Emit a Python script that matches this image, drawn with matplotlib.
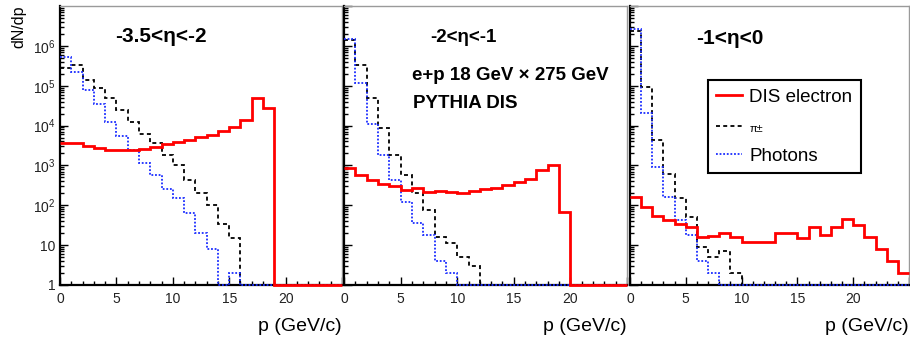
import numpy as np
import matplotlib
matplotlib.use("Agg")
import matplotlib.pyplot as plt
from matplotlib.ticker import MultipleLocator, LogLocator, NullFormatter, FixedLocator, FixedFormatter

plt.rcParams['font.family'] = ['Liberation Sans', 'DejaVu Sans']
plt.rcParams['mathtext.fontset'] = 'custom'
plt.rcParams['mathtext.rm'] = 'Liberation Sans'
plt.rcParams['mathtext.it'] = 'Liberation Sans:italic'
plt.rcParams['mathtext.bf'] = 'Liberation Sans:bold'

# momentum binning (GeV/c), 1 GeV/c wide bins
p_edges = np.arange(0, 26, 1)

eta_ranges = ["-3.5<η<-2", "-2<η<-1", "-1<η<0"]
series_names = ["DIS electron", "π±", "Photons"]

# dN/dp per bin, -3.5 < eta < -2
electron_eta1 = [3600, 3600, 3100, 2700, 2500, 2500, 2500, 2600, 2900, 3400, 3800, 4400,
                 5100, 5900, 7100, 9300, 13800, 49000, 27500, 0, 0, 0, 0, 0, 0]
pion_eta1 = [275000, 331000, 141000, 87000, 49000, 24500, 12600, 6300, 3600, 1800, 1000,
             440, 200, 100, 34, 15, 0, 0, 0, 0, 0, 0, 0, 0, 0]
photon_eta1 = [525000, 224000, 76000, 35500, 12600, 5600, 2500, 1120, 575, 250, 150, 63,
               20, 8, 0, 2, 0, 0, 0, 0, 0, 0, 0, 0, 0]

# dN/dp per bin, -2 < eta < -1
electron_eta2 = [850, 575, 437, 347, 309, 245, 269, 214, 229, 214, 209, 234, 251, 269, 324,
                 389, 447, 776, 1020, 66, 0, 0, 0, 0, 0]
pion_eta2 = [1400000, 331000, 49000, 8500, 1820, 575, 200, 76, 16, 11, 5, 3, 0, 0, 0, 0, 0,
             0, 0, 0, 0, 0, 0, 0, 0]
photon_eta2 = [1480000, 115000, 11000, 1820, 437, 123, 35, 18, 4, 2, 0, 0, 0, 0, 0, 0, 0,
               0, 0, 0, 0, 0, 0, 0, 0]

# dN/dp per bin, -1 < eta < 0
electron_eta3 = [166, 89, 54, 43, 34, 28, 16, 17, 20, 16, 12, 12, 12, 20, 20, 15, 28, 18, 28,
                 45, 32, 16, 8, 4, 2]
pion_eta3 = [2300000, 91000, 4400, 617, 151, 52, 9, 5, 7, 2, 0, 0, 0, 0, 0, 0, 0, 0, 0, 0, 0,
             0, 0, 0, 0]
photon_eta3 = [2630000, 20400, 933, 166, 43, 18, 4, 2, 0, 0, 0, 0, 0, 0, 0, 0, 0, 0, 0, 0, 0,
               0, 0, 0, 0]

panels = [
    (electron_eta1, pion_eta1, photon_eta1),
    (electron_eta2, pion_eta2, photon_eta2),
    (electron_eta3, pion_eta3, photon_eta3),
]

x_ticks = [0, 5, 10, 15, 20]
x_tick_labels = ["0", "5", "10", "15", "20"]
y_ticks = [1, 10, 1e2, 1e3, 1e4, 1e5, 1e6]
y_tick_labels = ["1", "10", "$10^{2}$", "$10^{3}$", "$10^{4}$", "$10^{5}$", "$10^{6}$"]

W, H = 910, 344
fig = plt.figure(figsize=(W / 100, H / 100), dpi=100)

# frame extents in pixels (left, right); shared top/bottom
frames = [(60, 342), (344, 627), (630, 909)]
top_px, bot_px = 6, 285

Y_MIN, Y_MAX = 1, 1e7

axes = []
for i, ((l, r), (ele, pi, gam)) in enumerate(zip(frames, panels)):
    ax = fig.add_axes([l / W, 1 - bot_px / H, (r - l) / W, (bot_px - top_px) / H])
    axes.append(ax)
    ax.set_yscale('log')
    ax.set_xlim(0, 25)
    ax.set_ylim(Y_MIN, Y_MAX)

    # empty bins are drawn along the axis floor
    h_pi = ax.stairs(np.maximum(pi, Y_MIN), p_edges, baseline=None, color='black',
                     linewidth=1.3, linestyle=(0, (2.2, 1.8)), zorder=3, clip_on=False,
                     label=series_names[1])
    h_gam = ax.stairs(np.maximum(gam, Y_MIN), p_edges, baseline=None, color='#1a2cff',
                      linewidth=1.3, linestyle=(0, (1, 1)), zorder=4, clip_on=False,
                      label=series_names[2])
    h_ele = ax.stairs(np.maximum(ele, Y_MIN), p_edges, baseline=None, color='#ff0000',
                      linewidth=2.0, zorder=5, clip_on=False, label=series_names[0])

    # ticks pointing into the frame
    ax.xaxis.set_major_locator(FixedLocator(x_ticks + [25]))
    ax.xaxis.set_major_formatter(FixedFormatter(x_tick_labels + [""]))
    ax.xaxis.set_minor_locator(MultipleLocator(1))
    ax.yaxis.set_major_locator(LogLocator(base=10, numticks=10))
    ax.yaxis.set_minor_locator(LogLocator(base=10, subs=np.arange(2, 10), numticks=10))
    ax.yaxis.set_minor_formatter(NullFormatter())
    ax.tick_params(axis='both', which='both', direction='in', top=False, right=False,
                   colors='black', labelcolor='#222222')
    ax.tick_params(axis='x', which='major', length=6, width=1.0, labelsize=10, pad=5)
    ax.tick_params(axis='x', which='minor', length=3, width=1.0)
    ax.tick_params(axis='y', which='major', length=5.5, width=1.0, labelsize=10, pad=3.5)
    ax.tick_params(axis='y', which='minor', length=3, width=1.0)
    if i == 0:
        ax.yaxis.set_major_locator(FixedLocator(y_ticks))
        ax.yaxis.set_major_formatter(FixedFormatter(y_tick_labels))
    else:
        ax.yaxis.set_major_formatter(NullFormatter())

    for side in ('left', 'bottom'):
        ax.spines[side].set_linewidth(1.6)
        ax.spines[side].set_color('black')
    for side in ('top', 'right'):
        ax.spines[side].set_linewidth(1.0)
        ax.spines[side].set_color('#9a9a9a')

    ax.set_xlabel("p (GeV/c)", loc='right', fontsize=14)
    ax.xaxis.set_label_coords(1.0, -0.118)

    if i == 2:
        leg = ax.legend(handles=[h_ele, h_pi, h_gam], loc='upper left',
                        bbox_to_anchor=(708 / W, 1 - 80 / H), bbox_transform=fig.transFigure,
                        fontsize=13.5, frameon=True, fancybox=False, framealpha=1,
                        edgecolor='black', borderpad=0.45, handlelength=1.35,
                        handletextpad=0.4, labelspacing=0.72, borderaxespad=0)
        leg.get_frame().set_linewidth(1.5)
        leg.get_texts()[1].set_fontsize(8)
        leg.set_zorder(10)

axes[0].set_ylabel("dN/dp", fontsize=11.5, loc='top')
axes[0].yaxis.set_label_coords(-0.118, 1.0)

# pseudorapidity ranges and run conditions
fig.text(161 / W, 1 - 36 / H, eta_ranges[0], fontsize=15, fontweight='bold',
         ha='center', va='center')
fig.text(463 / W, 1 - 38 / H, eta_ranges[1], fontsize=13.5, fontweight='bold',
         ha='center', va='center')
fig.text(730 / W, 1 - 38 / H, eta_ranges[2], fontsize=15, fontweight='bold',
         ha='center', va='center')
fig.text(412 / W, 1 - 75 / H, "e+p 18 GeV × 275 GeV", fontsize=13.5, fontweight='bold',
         ha='left', va='center')
fig.text(413 / W, 1 - 104 / H, "PYTHIA DIS", fontsize=13.5, fontweight='bold',
         ha='left', va='center')

fig.savefig("out.png", dpi=100)
